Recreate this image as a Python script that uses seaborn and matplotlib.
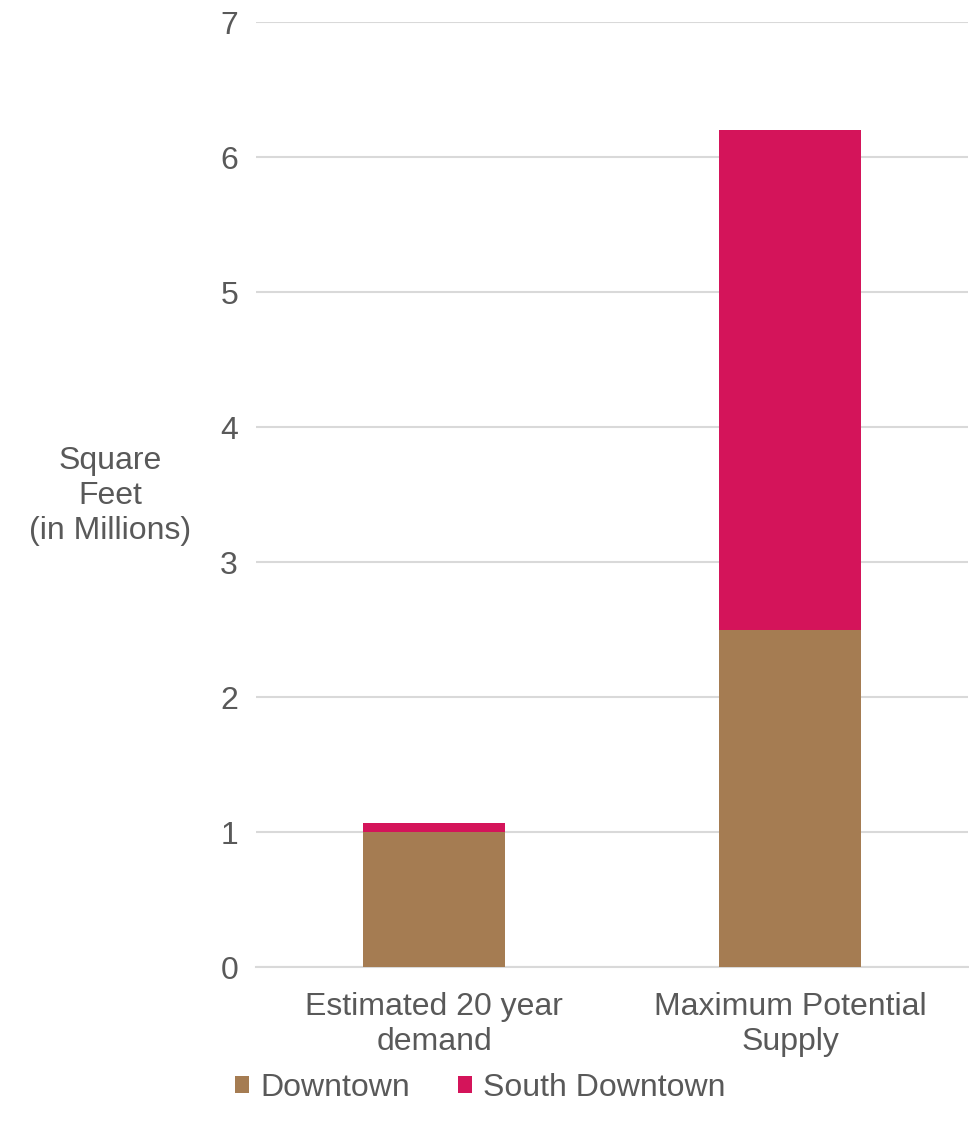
import matplotlib
matplotlib.use("Agg")
import matplotlib.pyplot as plt
import seaborn as sns
import pandas as pd
from matplotlib.patches import Patch

categories = ["Estimated 20 year\ndemand", "Maximum Potential\nSupply"]
downtown = [1.0, 2.5]
south_downtown = [0.07, 3.7]
series_names = ["Downtown", "South Downtown"]
yticks = [0, 1, 2, 3, 4, 5, 6, 7]

sns.set_theme(style="white")
plt.rcParams['font.family'] = ['Liberation Sans', 'DejaVu Sans']

TEXT = "#595959"
GRID = "#D9D9D9"
C_DT = "#A57C52"
C_SD = "#D4145A"
FS = 23

fig = plt.figure(figsize=(9.7, 11.3), dpi=100)
ax = fig.add_axes([0.264, 0.1442, 0.734, 0.8363])

df = pd.DataFrame({"cat": categories, "dt": downtown, "sd": south_downtown})
sns.barplot(data=df, x="cat", y="dt", color=C_DT, width=0.4, ax=ax,
            saturation=1, linewidth=0, zorder=3)
sns.barplot(data=df, x="cat", y="sd", bottom=df["dt"], color=C_SD, width=0.4,
            ax=ax, saturation=1, linewidth=0, zorder=3)

ax.set_xlim(-0.5, 1.5)
ax.set_ylim(0, 7)
ax.set_yticks(yticks)
ax.yaxis.grid(True, color=GRID, linewidth=1.5, zorder=0)
ax.set_axisbelow(True)
for s in ["top", "right", "left"]:
    ax.spines[s].set_visible(False)
ax.spines["bottom"].set_color(GRID)
ax.spines["bottom"].set_linewidth(1.5)
ax.tick_params(axis="both", length=0, labelsize=FS, labelcolor=TEXT)
ax.tick_params(axis="y", pad=13)
ax.tick_params(axis="x", pad=18)
for lbl in ax.get_xticklabels():
    lbl.set_linespacing(1.2)
ax.set_xlabel("")
ax.set_ylabel("Square\nFeet\n(in Millions)", rotation=0, fontsize=FS, color=TEXT,
              ha="center", va="center", linespacing=1.2)
ax.yaxis.set_label_coords((110 - 256) / 712, (967 - 496) / 945)

handles = [Patch(facecolor=C_DT, edgecolor="none"), Patch(facecolor=C_SD, edgecolor="none")]
fig.legend(handles, series_names, loc="center", bbox_to_anchor=(0.495, 1 - 1088 / 1130),
           ncol=2, frameon=False, fontsize=FS, labelcolor=TEXT,
           handlelength=0.45, handleheight=0.45, handletextpad=0.35, columnspacing=1.5)

fig.savefig("out.png", dpi=100)
